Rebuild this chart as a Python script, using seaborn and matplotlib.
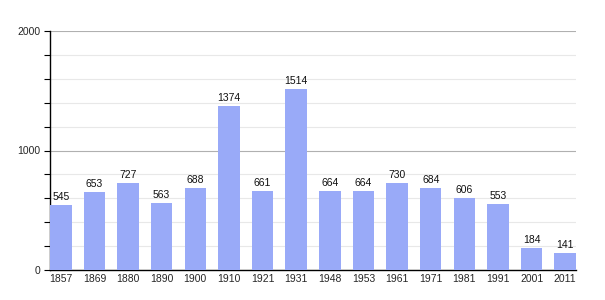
import matplotlib
matplotlib.use("Agg")
import matplotlib.pyplot as plt
import seaborn as sns
import pandas as pd
from matplotlib.ticker import MultipleLocator

years = ["1857", "1869", "1880", "1890", "1900", "1910", "1921", "1931",
         "1948", "1953", "1961", "1971", "1981", "1991", "2001", "2011"]
population = [545, 653, 727, 563, 688, 1374, 661, 1514,
              664, 664, 730, 684, 606, 553, 184, 141]

df = pd.DataFrame({"year": years, "pop": population})

sns.set_theme(style="white")
plt.rcParams['font.family'] = ['Liberation Sans', 'DejaVu Sans']

fig = plt.figure(figsize=(6.05, 3.0), dpi=100)
ax = fig.add_axes([50/605, 0.1, (576-50)/605, (270-31)/300])

w = 0.64
sns.barplot(data=df, x="year", y="pop", color="#99aaf8", saturation=1,
            width=w, ax=ax, zorder=3, linewidth=0, edgecolor="none")

for i, v in enumerate(population):
    ax.text(i, v + 25, str(v), ha="center", va="bottom", fontsize=7.5,
            color="#111111", zorder=4)

ax.set_xlim(-w/2, len(years) - 1 + w/2)
ax.set_ylim(0, 2000)
ax.yaxis.set_major_locator(MultipleLocator(1000))
ax.yaxis.set_minor_locator(MultipleLocator(200))
ax.grid(axis="y", which="minor", color="#e8e8e8", linewidth=0.8, zorder=0)
ax.grid(axis="y", which="major", color="#b0b0b0", linewidth=0.8, zorder=0)
ax.set_axisbelow(True)

ax.tick_params(axis="y", which="both", left=True, direction="out",
               color="black", width=0.8, labelsize=7.5, pad=3)
ax.tick_params(axis="y", which="major", length=4)
ax.tick_params(axis="y", which="minor", length=4)
ax.tick_params(axis="x", bottom=False, length=0, labelsize=7.5, pad=3)

for s in ["top", "right"]:
    ax.spines[s].set_visible(False)
for s in ["left", "bottom"]:
    ax.spines[s].set_visible(True)
    ax.spines[s].set_color("black")
    ax.spines[s].set_linewidth(1.0)

ax.set_xlabel("")
ax.set_ylabel("")
fig.savefig("out.png", dpi=100)
